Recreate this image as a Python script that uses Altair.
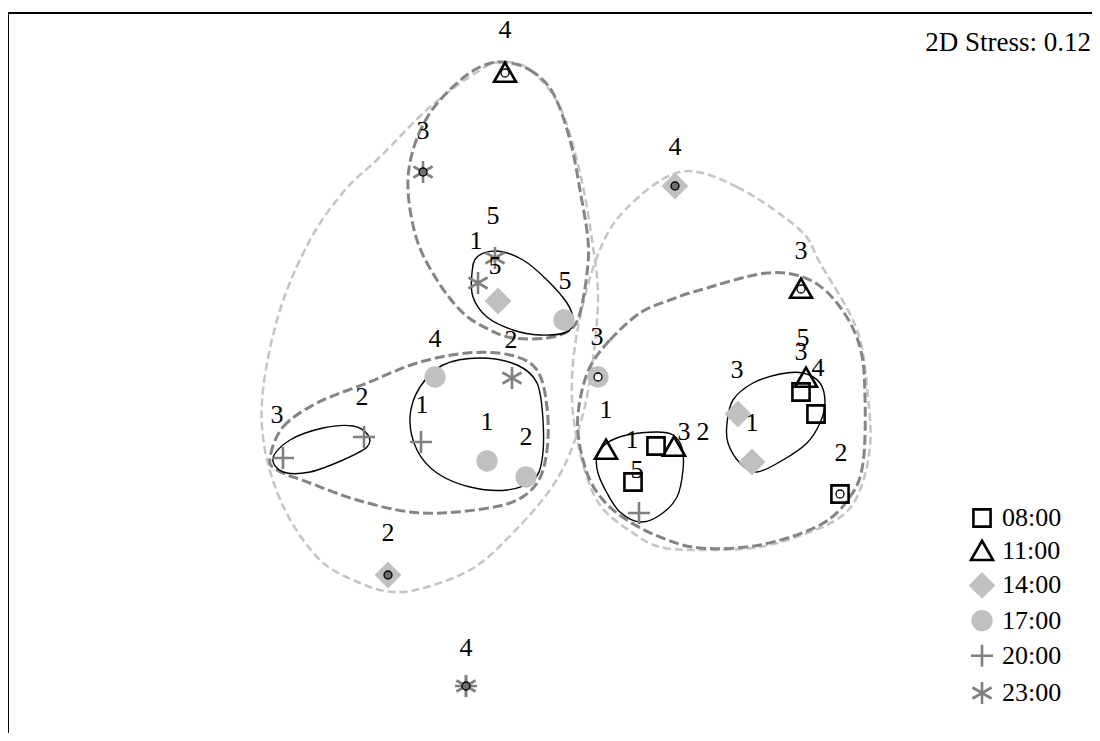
import altair as alt
import pandas as pd

TIMES = ["08:00", "11:00", "14:00", "17:00", "20:00", "23:00"]

# ---- sample positions (MDS axis 1 / axis 2) per sampling time ----
x_0800 = [0.98, 0.75, 2.43, 2.58, 2.82]
y_0800 = [-0.63, -0.99, -0.09, -0.31, -1.11]
x_1100 = [-0.53, 0.48, 1.16, 2.43, 2.48]
y_1100 = [3.10, -0.67, -0.64, 0.94, 0.05]
x_1400 = [-0.60, 1.17, 1.80, 1.94, -1.70]
y_1400 = [0.82, 1.97, -0.31, -0.79, -1.92]
x_1700 = [0.06, -1.23, -0.71, -0.32, 0.40]
y_1700 = [0.63, 0.06, -0.78, -0.94, 0.06]
x_2000 = [-2.75, -1.94, -1.37, 0.81, -0.92]
y_2000 = [-0.75, -0.54, -0.59, -1.30, -3.03]
x_2300 = [-1.35, -0.63, -0.80, -0.46, -0.92]
y_2300 = [2.11, 1.25, 1.00, 0.05, -3.03]

# small ring markers drawn on some samples
ring_open_x = [-0.53, 0.40, 2.43, 2.82]
ring_open_y = [3.10, 0.06, 0.94, -1.11]
ring_dark_x = [-1.35, 1.17, -1.70, -0.92]
ring_dark_y = [2.11, 1.97, -1.92, -3.03]

# ---- sample labels ----
label_text = ["4", "3", "5", "1", "5", "5", "2", "4", "3", "4", "3", "5", "3", "4",
              "3", "1", "2", "1", "3", "2", "1", "5", "3", "2", "1", "1", "2", "2", "4"]
label_x = [-0.53, -1.35, -0.65, -0.82, -0.63, 0.07, -0.47, -1.23, 0.39, 1.17, 2.43, 2.45, 2.43, 2.60,
           1.79, 1.94, 2.83, 0.48, 1.26, 1.45, 0.74, 0.79, -2.81, -1.96, -1.36, -0.71, -0.32, -1.70, -0.92]
label_y = [3.53, 2.52, 1.67, 1.42, 1.17, 1.02, 0.43, 0.44, 0.46, 2.36, 1.32, 0.45, 0.31, 0.15,
           0.13, -0.40, -0.70, -0.27, -0.49, -0.49, -0.57, -0.87, -0.32, -0.14, -0.22, -0.39, -0.54, -1.50, -2.65]

# ---- similarity contours (outline points) ----
outer_left_x = [-0.55, -0.28, 0.02, 0.22, 0.34, 0.40, 0.32, 0.17, -0.08, -0.55, -0.88, -1.31,
                -1.65, -1.98, -2.38, -2.73, -2.93, -2.95, -2.78, -2.48, -2.13, -1.78, -1.28, -0.78]
outer_left_y = [3.21, 3.13, 2.76, 2.10, 1.43, 0.83, 0.03, -0.57, -1.07, -1.60, -1.87, -2.04,
                -2.09, -2.00, -1.77, -1.27, -0.67, -0.07, 0.73, 1.43, 1.93, 2.26, 2.76, 3.13]
outer_right_x = [1.22, 1.79, 2.42, 2.62, 2.99, 3.10, 3.12, 3.02, 2.85, 2.52, 2.02, 1.42,
                 1.02, 0.75, 0.42, 0.24, 0.14, 0.19, 0.39, 0.67]
outer_right_y = [2.11, 1.96, 1.53, 1.20, 0.53, -0.14, -0.64, -1.07, -1.32, -1.49, -1.64, -1.67,
                 -1.64, -1.50, -1.22, -0.77, -0.17, 0.50, 1.26, 1.73]
mid_top_x = [-0.55, -0.28, -0.05, 0.12, 0.22, 0.30, 0.29, 0.22, 0.12, -0.11, -0.45, -0.68,
             -0.95, -1.21, -1.41, -1.50, -1.45, -1.28, -1.01, -0.78]
mid_top_y = [3.21, 3.13, 2.90, 2.43, 1.93, 1.43, 1.10, 0.70, 0.53, 0.45, 0.45, 0.53,
             0.70, 1.03, 1.43, 1.93, 2.33, 2.70, 3.00, 3.16]
mid_left_x = [-2.88, -2.75, -2.41, -1.91, -1.41, -0.91, -0.48, -0.21, -0.11, -0.11, -0.21,
              -0.48, -1.01, -1.48, -2.01, -2.48, -2.81]
mid_left_y = [-0.75, -0.44, -0.20, 0.00, 0.20, 0.30, 0.28, 0.13, -0.24, -0.67, -1.00,
              -1.20, -1.29, -1.29, -1.17, -1.00, -0.87]
mid_right_x = [0.32, 0.52, 0.82, 1.12, 1.42, 2.09, 2.52, 2.82, 3.02, 3.07, 3.05, 2.92, 2.62,
               2.02, 1.42, 1.02, 0.69, 0.45, 0.29, 0.20, 0.22]
mid_right_y = [0.16, 0.43, 0.70, 0.83, 0.93, 1.10, 1.03, 0.76, 0.36, -0.14, -0.80, -1.14, -1.42,
               -1.62, -1.65, -1.54, -1.37, -1.17, -0.90, -0.50, -0.17]
inner_top_x = [-0.81, -0.61, -0.35, -0.11, 0.09, 0.15, 0.09, -0.18, -0.45, -0.71, -0.85, -0.86]
inner_top_y = [1.26, 1.32, 1.23, 1.03, 0.80, 0.63, 0.51, 0.48, 0.53, 0.66, 0.86, 1.10]
inner_left_a_x = [-2.85, -2.68, -2.35, -2.05, -1.90, -1.91, -2.15, -2.48, -2.75]
inner_left_a_y = [-0.75, -0.57, -0.45, -0.43, -0.52, -0.64, -0.77, -0.89, -0.89]
inner_left_b_x = [-1.48, -1.38, -1.15, -0.78, -0.41, -0.21, -0.15, -0.16, -0.25, -0.51, -0.88, -1.21, -1.41]
inner_left_b_y = [-0.34, -0.04, 0.18, 0.25, 0.18, 0.00, -0.37, -0.77, -0.97, -1.07, -1.04, -0.90, -0.67]
inner_right_a_x = [1.69, 1.75, 1.95, 2.22, 2.45, 2.62, 2.67, 2.62, 2.49, 2.25, 1.99, 1.82, 1.70]
inner_right_a_y = [-0.40, -0.17, 0.00, 0.09, 0.10, 0.00, -0.20, -0.40, -0.60, -0.77, -0.89, -0.80, -0.60]
inner_right_b_x = [0.39, 0.49, 0.69, 0.99, 1.15, 1.24, 1.25, 1.19, 1.02, 0.82, 0.62, 0.49, 0.40]
inner_right_b_y = [-0.74, -0.60, -0.52, -0.49, -0.52, -0.65, -0.87, -1.14, -1.32, -1.39, -1.29, -1.10, -0.90]

STRESS = "2D Stress: 0.12"
stress_x = [5.33]
stress_y = [3.40]

# ---------------- build tables ----------------
groups = [(x_0800, y_0800), (x_1100, y_1100), (x_1400, y_1400),
          (x_1700, y_1700), (x_2000, y_2000), (x_2300, y_2300)]
rows = []
for t, (xs_, ys_) in zip(TIMES, groups):
    for a, b in zip(xs_, ys_):
        rows.append({"x": a, "y": b, "time": t})
pts = pd.DataFrame(rows)

curves = [
    ("outer_left", "outer", outer_left_x, outer_left_y),
    ("outer_right", "outer", outer_right_x, outer_right_y),
    ("mid_top", "mid", mid_top_x, mid_top_y),
    ("mid_left", "mid", mid_left_x, mid_left_y),
    ("mid_right", "mid", mid_right_x, mid_right_y),
    ("inner_top", "inner", inner_top_x, inner_top_y),
    ("inner_left_a", "inner", inner_left_a_x, inner_left_a_y),
    ("inner_left_b", "inner", inner_left_b_x, inner_left_b_y),
    ("inner_right_a", "inner", inner_right_a_x, inner_right_a_y),
    ("inner_right_b", "inner", inner_right_b_x, inner_right_b_y),
]
crow = []
for name, level, cx, cy in curves:
    for i, (a, b) in enumerate(zip(cx, cy)):
        crow.append({"curve": name, "level": level, "i": i, "x": a, "y": b})
rings = pd.DataFrame(crow)

labels = pd.DataFrame({"x": label_x, "y": label_y, "t": label_text})
open_dots = pd.DataFrame({"x": ring_open_x, "y": ring_open_y})
dark_dots = pd.DataFrame({"x": ring_dark_x, "y": ring_dark_y})
stress = pd.DataFrame({"x": stress_x, "y": stress_y, "t": [STRESS]})

XS = alt.Scale(domain=[-5.5, 5.34], nice=False, zero=False)
YS = alt.Scale(domain=[-3.5, 3.7], nice=False, zero=False)
X = alt.X("x:Q", scale=XS, axis=None)
Y = alt.Y("y:Q", scale=YS, axis=None)

SERIF = "Liberation Serif"

SHAPES = [
    "M-0.78,-0.78L0.78,-0.78L0.78,0.78L-0.78,0.78Z",
    "M0,-0.95L1,0.8L-1,0.8Z",
    "M0,-1.05L1.05,0L0,1.05L-1.05,0Z",
    "M0.85,0A0.85,0.85,0,1,1,-0.85,0A0.85,0.85,0,1,1,0.85,0Z",
    "M-1,0L1,0M0,-1L0,1",
    "M0,-1L0,1M-0.87,-0.5L0.87,0.5M-0.87,0.5L0.87,-0.5",
]
FILLS = ["transparent", "transparent", "#c0c0c0", "#c0c0c0", "transparent", "transparent"]
STROKES = ["#000000", "#000000", "#c0c0c0", "#c0c0c0", "#808080", "#808080"]


def leg():
    return alt.Legend(orient="none", legendX=961, legendY=492, title=None,
                      labelFont=SERIF, labelFontSize=26, labelColor="black",
                      symbolSize=484, symbolStrokeWidth=2.6, rowPadding=3.2,
                      labelOffset=7, padding=0)


def ring_layer(level, color, width, dash=None):
    kw = dict(interpolate="cardinal-closed", color=color, strokeWidth=width)
    if dash:
        kw["strokeDash"] = dash
    return alt.Chart(rings[rings.level == level]).mark_line(**kw).encode(
        x=X, y=Y, detail="curve:N", order="i:Q")


outer = ring_layer("outer", "#c4c4c4", 2.5, [8, 4])
mid = ring_layer("mid", "#858585", 3, [10, 4])
inner = ring_layer("inner", "#000000", 1.4)

points = alt.Chart(pts).mark_point(size=484, strokeWidth=2.6, opacity=1, filled=True).encode(
    x=X, y=Y,
    shape=alt.Shape("time:N", scale=alt.Scale(domain=TIMES, range=SHAPES), legend=leg()),
    fill=alt.Fill("time:N", scale=alt.Scale(domain=TIMES, range=FILLS), legend=leg()),
    stroke=alt.Stroke("time:N", scale=alt.Scale(domain=TIMES, range=STROKES), legend=leg()),
)

odots = alt.Chart(open_dots).mark_point(shape="circle", size=64, filled=True, fill="white",
                                         stroke="black", strokeWidth=1.3, opacity=1).encode(x=X, y=Y)
ddots = alt.Chart(dark_dots).mark_point(shape="circle", size=64, filled=True, fill="#6e6e6e",
                                         stroke="black", strokeWidth=1.3, opacity=1).encode(x=X, y=Y)

text = alt.Chart(labels).mark_text(font=SERIF, fontSize=26, color="black",
                                   align="center", baseline="middle").encode(x=X, y=Y, text="t:N")
stress_txt = alt.Chart(stress).mark_text(font=SERIF, fontSize=27, color="black",
                                         align="right", baseline="middle").encode(x=X, y=Y, text="t:N")

one = pd.DataFrame({"a": [0]})
top_rule = alt.Chart(one).mark_rule(color="black", strokeWidth=2).encode(y=alt.value(0))
left_rule = alt.Chart(one).mark_rule(color="black", strokeWidth=2).encode(x=alt.value(0))

chart = alt.layer(
    outer, mid, inner, points, odots, ddots, text, stress_txt, top_rule, left_rule
).properties(
    width=1084, height=720,
    padding={"left": 0, "top": 5, "right": 0, "bottom": 0},
    autosize=alt.AutoSizeParams(type="none"),
    background="white",
).configure_view(stroke="transparent")

chart.save("out.html", embed_options={"renderer": "svg", "actions": False})
